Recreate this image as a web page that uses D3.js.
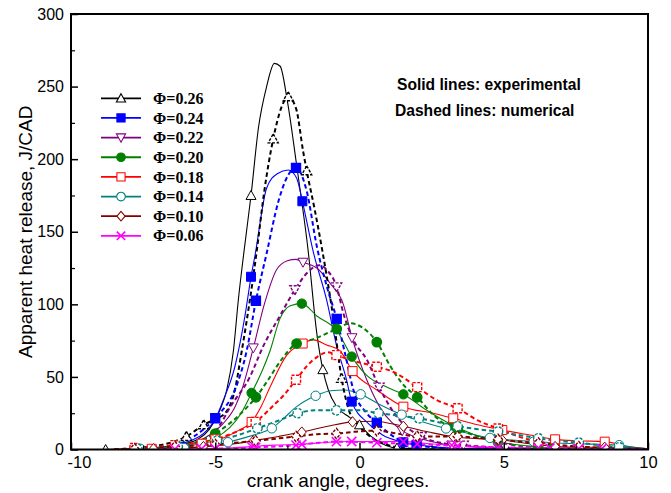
<!DOCTYPE html>
<html>
<head>
<meta charset="utf-8">
<script src="https://cdn.jsdelivr.net/npm/d3@7"></script>
<style>
  body { margin: 0; background: #ffffff; }
  svg { display: block; }
</style>
</head>
<body>
<svg id="chart" width="671" height="493"></svg>
<script>
// Apparent heat release vs crank angle for several equivalence ratios.
// Each point: [crank angle (deg), heat release (J/CAD), marker flag]

const phiLabels = ["Φ=0.26", "Φ=0.24", "Φ=0.22", "Φ=0.20", "Φ=0.18", "Φ=0.14", "Φ=0.10", "Φ=0.06"];

const xTicks = [-10, -5, 0, 5, 10];
const xMinorTicks = [-7.5, -2.5, 2.5, 7.5];
const yTicks = [0, 50, 100, 150, 200, 250, 300];
const yMinorTicks = [25, 75, 125, 175, 225, 275];

// experimental (solid)
const exp026 = [[-8.8,0,1],[-8,0.5],[-7,1.5],[-6.3,3],[-5.6,7],[-5.2,14],[-4.84,27],[-4.6,41],[-4.37,68],[-4.2,103],[-4.0,137],[-3.76,175,1],[-3.5,222],[-3.22,250],[-2.95,266],[-2.75,264],[-2.5,240],[-2.18,196],[-1.78,137],[-1.48,80],[-1.27,55,1],[-1.08,41],[-0.79,29.5],[-0.33,22],[0,17,1],[0.4,9],[0.9,3],[1.3,1,1],[2,0.5],[4,0],[10,0]];
const exp024 = [[-8,0],[-7,1],[-6,5],[-5.3,13],[-5.0,21],[-4.72,34],[-4.32,57],[-3.97,92],[-3.76,119,1],[-3.62,134],[-3.22,180],[-2.85,190],[-2.47,192.5],[-2.18,187],[-1.98,171,1],[-1.6,136],[-1.14,103],[-0.8,72],[-0.45,48],[-0.27,33,1],[0.3,18],[0.8,10],[1.52,5,1],[2.5,2],[4,0.5],[10,0]];
const exp022 = [[-8,0],[-7,1],[-6,3],[-5.2,10],[-4.72,18],[-4.3,30],[-4.08,41],[-3.68,70,1],[-3.3,100],[-2.87,124],[-2.5,130],[-2.2,131],[-1.96,129,1],[-1.48,125],[-1.0,114],[-0.56,100],[-0.26,77,1],[0.25,48],[0.71,29],[1.48,13,1],[2.2,7],[3.2,3,1],[4.9,1,1],[6.6,0.5],[10,0]];
const exp020 = [[-8,0],[-7,1],[-6,3],[-5.0,8],[-4.5,15],[-4.1,25],[-3.74,39,1],[-3.4,53],[-3.1,68],[-2.76,90],[-2.4,99],[-2.0,100.5,1],[-1.48,92],[-0.79,82],[-0.27,64,1],[0.25,51],[0.94,43],[1.52,38,1],[2.33,27],[3.2,17,1],[4.0,10],[4.9,5,1],[5.8,2.5],[6.7,1,1],[8.4,0.5,1],[10,0]];
const exp018 = [[-8,0],[-7.2,0.5,1],[-6.2,2],[-5.47,4,1],[-4.6,9],[-4.2,13],[-3.74,19,1],[-3.4,30],[-3.1,43],[-2.52,65],[-1.97,73,1],[-1.6,75.5],[-1.14,72],[-0.68,68],[-0.24,54,1],[0.6,41],[1.52,29.5,1],[2.56,25],[3.25,21.5,1],[4.1,17],[4.95,13.4,1],[5.9,10],[6.78,7,1],[7.6,6],[8.5,5.4,1],[9.3,2],[10,0.5]];
const exp014 = [[-8,0],[-7.6,0.5,1],[-6.08,1,1],[-5,3],[-4.56,5,1],[-4,8],[-3.5,11],[-3.04,14.6,1],[-2.6,22],[-2.18,29.5],[-1.52,37,1],[-1.0,40.5],[-0.5,41],[0.04,38,1],[0.7,31],[1.46,24,1],[2.2,19],[3.0,14.5,1],[3.8,11],[4.52,8,1],[5.3,6.5],[6.04,5.5,1],[6.8,4.5],[7.56,4,1],[8.3,3.5],[9.0,3,1],[9.5,1.5],[10,0.5]];
const exp010 = [[-8,0],[-7.14,0.5,1],[-6,1],[-5.41,2,1],[-4.5,3.5],[-3.68,6,1],[-2.8,9],[-2.0,12,1],[-1.1,16],[-0.24,19,1],[0.5,19.5],[1.52,16,1],[2.4,12],[3.25,8.8,1],[4.1,7.5],[4.95,6.5,1],[5.9,4],[6.78,2,1],[7.6,1.5],[8.5,1.5,1],[10,0.5]];
const exp006 = [[-8,0],[-5.47,0.5,1],[-4.5,1],[-3.74,2,1],[-3,3],[-2.0,3.6,1],[-1.2,4.8],[-0.27,5.5,1],[0.6,5.5],[1.52,5.4,1],[2.4,4],[3.2,3,1],[4.0,2],[4.9,1.5,1],[6.6,1,1],[8.4,0.5,1],[10,0]];

// numerical (dashed)
const num026 = [[-8.5,0],[-7.5,1.5],[-6.5,5],[-6.0,9,1],[-5.4,17,1],[-5.0,21],[-4.66,25],[-4.32,41],[-4.08,68],[-3.8,103],[-3.56,137],[-3.3,178],[-2.99,214,1],[-2.7,236],[-2.47,243,1],[-2.2,235],[-1.95,205],[-1.83,192,1],[-1.55,165],[-1.28,136],[-0.91,91],[-0.62,49,1],[-0.33,25],[0,16],[0.5,7],[1,3],[1.5,1],[2.5,0],[10,0]];
const num024 = [[-8,0],[-7,1],[-6,6],[-5.4,14],[-5.0,21.5,1],[-4.84,25],[-4.32,41],[-3.91,68],[-3.59,102.5,1],[-3.22,135],[-2.81,171],[-2.5,188],[-2.2,194,1],[-1.83,178],[-1.48,140],[-1.1,110],[-0.79,90,1],[-0.5,66],[-0.21,41],[0.25,25],[0.6,18.5,1],[1.17,9],[1.98,3,1],[3,1],[5,0],[10,0]];
const num022 = [[-8,0],[-6.5,2],[-5.5,6],[-4.9,15],[-4.49,29],[-3.8,50],[-3.34,71],[-2.76,92],[-2.24,110,1],[-1.8,122],[-1.4,127],[-1.1,123],[-0.79,112,1],[-0.56,94],[-0.2,75],[0.25,62],[0.68,43,1],[1.4,20],[2.14,9,1],[3,4],[3.6,3,1],[5.06,1,1],[7,0],[10,0]];
const num020 = [[-8,0],[-6.4,2,1],[-5.0,11,1],[-4.5,18],[-4.0,27],[-3.59,36,1],[-3.2,47],[-2.7,62],[-2.18,73,1],[-1.6,76],[-1.02,81],[-0.79,83,1],[-0.33,87],[0.1,84],[0.6,74,1],[1.05,58],[1.5,45],[2.0,36,1],[2.5,25],[3.0,17],[3.4,14,1],[4.1,9],[4.8,5,1],[5.5,2.5],[6.2,1,1],[7.6,0.5,1],[10,0]];
const num018 = [[-8.5,0],[-7.8,1,1],[-6.4,3,1],[-5.0,7,1],[-4.3,12],[-3.6,19,1],[-3.0,30],[-2.6,38],[-2.2,48,1],[-1.8,58],[-1.45,64],[-1.1,67],[-0.8,65,1],[-0.2,61],[0.6,57,1],[1.17,53.5],[2.0,43,1],[2.68,34],[3.4,28.4,1],[4.1,20],[4.8,14.5,1],[5.5,9],[6.2,5.5,1],[6.9,3],[7.6,2,1],[8.5,1],[10,0]];
const num014 = [[-8,0],[-7.7,0.5,1],[-6.3,2,1],[-4.94,6,1],[-4.2,10],[-3.54,14.6,1],[-2.8,20],[-2.14,25,1],[-1.5,27],[-0.8,27,1],[0,27],[0.66,25,1],[1.3,23.5],[2.06,21.5,1],[2.7,19],[3.4,16,1],[4.1,14],[4.8,12.3,1],[5.5,10],[6.2,7.7,1],[6.9,6],[7.6,4.7,1],[8.3,3],[9.0,1.5,1],[10,0]];
const num010 = [[-8.5,0],[-7.8,0.5,1],[-6.4,2,1],[-5.0,3.5,1],[-3.6,6,1],[-2.2,9,1],[-1.5,10.5],[-0.8,11,1],[0,12.5],[0.6,13,1],[1.3,11],[2.0,9,1],[2.7,9],[3.4,9,1],[4.1,8],[4.8,7,1],[5.5,5.5],[6.2,4.5,1],[6.9,3],[7.6,2,1],[8.5,1],[10,0]];
const num006 = [[-8,0],[-6.4,0.3,1],[-5.0,0.6,1],[-3.6,1.5,1],[-2.2,3,1],[-1.5,4.5],[-0.8,5.4,1],[0,5.2],[0.6,4.7,1],[2.0,3.8,1],[3.4,2.5,1],[4.8,1.5,1],[6.2,1,1],[7.6,0.5,1],[10,0]];

const experimental = [exp026, exp024, exp022, exp020, exp018, exp014, exp010, exp006];
const numerical = [num026, num024, num022, num020, num018, num014, num010, num006];

// styling
const seriesColors = ["#000000", "#0000ff", "#800080", "#008000", "#ff0000", "#008080", "#800000", "#ff00ff"];
const markerShapes = ["triUp", "square", "triDown", "circle", "square", "circle", "diamond", "cross"];
const markerFilled = [false, true, false, true, false, false, false, false];

const svg = d3.select("#chart");
const W = 671, H = 493;
const plot = { left: 71, right: 648, top: 14, bottom: 449.5 };

const x = d3.scaleLinear().domain([-10, 10]).range([plot.left, plot.right]);
const y = d3.scaleLinear().domain([0, 300]).range([plot.bottom, plot.top]);

svg.append("rect").attr("width", W).attr("height", H).attr("fill", "#ffffff");

svg.append("defs").append("clipPath").attr("id", "plotClip")
  .append("rect")
  .attr("x", plot.left).attr("y", plot.top)
  .attr("width", plot.right - plot.left).attr("height", plot.bottom - plot.top);

function markerPath(shape, s) {
  switch (shape) {
    case "triUp":
      return `M0,${-s}L${s},${s * 0.8}L${-s},${s * 0.8}Z`;
    case "triDown":
      return `M0,${s}L${s},${-s * 0.8}L${-s},${-s * 0.8}Z`;
    case "square":
      return `M${-s},${-s}H${s}V${s}H${-s}Z`;
    case "diamond":
      return `M0,${-s}L${s * 0.85},0L0,${s}L${-s * 0.85},0Z`;
    case "cross":
      return `M${-s},${-s}L${s},${s}M${s},${-s}L${-s},${s}`;
    case "circle":
    default:
      return `M${s},0A${s},${s},0,1,1,${-s},0A${s},${s},0,1,1,${s},0Z`;
  }
}
const markerSize = { triUp: 5, triDown: 5, square: 4.5, diamond: 5.2, cross: 4.6, circle: 4.7 };

const line = d3.line()
  .x(d => x(d[0]))
  .y(d => y(d[1]))
  .curve(d3.curveMonotoneX);

const layer = svg.append("g").attr("clip-path", "url(#plotClip)");

// curves
experimental.forEach((data, i) => {
  layer.append("path")
    .datum(data)
    .attr("d", line)
    .attr("fill", "none")
    .attr("stroke", seriesColors[i])
    .attr("stroke-width", 1.1);
});
numerical.forEach((data, i) => {
  layer.append("path")
    .datum(data)
    .attr("d", line)
    .attr("fill", "none")
    .attr("stroke", seriesColors[i])
    .attr("stroke-width", 2)
    .attr("stroke-dasharray", "4.5,3");
});

// markers
function drawMarkers(data, i, dashed) {
  const shape = markerShapes[i];
  const filled = markerFilled[i];
  layer.append("g")
    .selectAll("path")
    .data(data.filter(d => d[2]))
    .join("path")
    .attr("transform", d => `translate(${x(d[0])},${y(d[1])})`)
    .attr("d", markerPath(shape, markerSize[shape]))
    .attr("fill", shape === "cross" ? "none" : (filled ? seriesColors[i] : "#ffffff"))
    .attr("stroke", seriesColors[i])
    .attr("stroke-width", shape === "cross" ? 1.6 : (dashed ? 1.4 : 1))
    .attr("stroke-dasharray", dashed && !filled && shape !== "cross" ? "3,1.5" : null);
}
experimental.forEach((d, i) => drawMarkers(d, i, false));
numerical.forEach((d, i) => drawMarkers(d, i, true));

// axes
const axisFont = "'Liberation Sans', Arial, sans-serif";

const xAxis = svg.append("g")
  .attr("transform", `translate(0,${plot.bottom})`)
  .call(d3.axisBottom(x).tickValues(xTicks).tickFormat(d3.format("d"))
    .tickSizeInner(-7).tickSizeOuter(0).tickPadding(6.5));
xAxis.select(".domain").remove();
xAxis.selectAll("line").attr("stroke", "#000").attr("stroke-width", 1.5);
xAxis.selectAll("text").attr("font-family", axisFont).attr("font-size", 16.5).attr("fill", "#000")
  .text(d => d < 0 ? "-" + Math.abs(d) : d)
  // the corner label sits just right of the y-axis zero
  .attr("x", d => d === xTicks[0] ? 8 : 0);

const xMinor = svg.append("g")
  .attr("transform", `translate(0,${plot.bottom})`)
  .call(d3.axisBottom(x).tickValues(xMinorTicks).tickFormat("").tickSizeInner(-4).tickSizeOuter(0));
xMinor.select(".domain").remove();
xMinor.selectAll("line").attr("stroke", "#000").attr("stroke-width", 1.2);

const yAxis = svg.append("g")
  .attr("transform", `translate(${plot.left},0)`)
  .call(d3.axisLeft(y).tickValues(yTicks).tickFormat(d3.format("d"))
    .tickSizeInner(-7).tickSizeOuter(0).tickPadding(7));
yAxis.select(".domain").remove();
yAxis.selectAll("line").attr("stroke", "#000").attr("stroke-width", 1.5);
yAxis.selectAll("text").attr("font-family", axisFont).attr("font-size", 16).attr("fill", "#000");

const yMinor = svg.append("g")
  .attr("transform", `translate(${plot.left},0)`)
  .call(d3.axisLeft(y).tickValues(yMinorTicks).tickFormat("").tickSizeInner(-4).tickSizeOuter(0));
yMinor.select(".domain").remove();
yMinor.selectAll("line").attr("stroke", "#000").attr("stroke-width", 1.2);

// frame
svg.append("rect")
  .attr("x", plot.left).attr("y", plot.top)
  .attr("width", plot.right - plot.left).attr("height", plot.bottom - plot.top)
  .attr("fill", "none").attr("stroke", "#000").attr("stroke-width", 2);

// axis titles
svg.append("text")
  .attr("x", 338).attr("y", 487)
  .attr("text-anchor", "middle")
  .attr("font-family", axisFont).attr("font-size", 19)
  .text("crank angle, degrees.");

svg.append("text")
  .attr("transform", `translate(32,${(plot.top + plot.bottom) / 2}) rotate(-90)`)
  .attr("text-anchor", "middle")
  .attr("font-family", axisFont).attr("font-size", 19)
  .text("Apparent heat release, J/CAD");

// notes
svg.append("text")
  .attr("x", 397).attr("y", 90)
  .attr("font-family", axisFont).attr("font-size", 15.6).attr("font-weight", "bold")
  .text("Solid lines: experimental");
svg.append("text")
  .attr("x", 395).attr("y", 116)
  .attr("font-family", axisFont).attr("font-size", 15.6).attr("font-weight", "bold")
  .text("Dashed lines: numerical");

// legend
const legend = svg.append("g");
phiLabels.forEach((label, i) => {
  const ly = 98.3 + i * 19.65;
  const g = legend.append("g").attr("transform", `translate(0,${ly})`);
  g.append("line").attr("x1", 101).attr("x2", 141).attr("y1", 0).attr("y2", 0)
    .attr("stroke", seriesColors[i]).attr("stroke-width", 1.8);
  const shape = markerShapes[i];
  g.append("path")
    .attr("transform", "translate(121,0)")
    .attr("d", markerPath(shape, markerSize[shape] - 0.4))
    .attr("fill", shape === "cross" ? "none" : (markerFilled[i] ? seriesColors[i] : "#ffffff"))
    .attr("stroke", seriesColors[i])
    .attr("stroke-width", shape === "cross" ? 1.6 : 1.1);
  g.append("text")
    .attr("x", 153).attr("y", 5.6)
    .attr("font-family", "'Liberation Serif', 'Times New Roman', serif")
    .attr("font-weight", "bold").attr("font-size", 16)
    .text(label);
});
</script>
</body>
</html>
